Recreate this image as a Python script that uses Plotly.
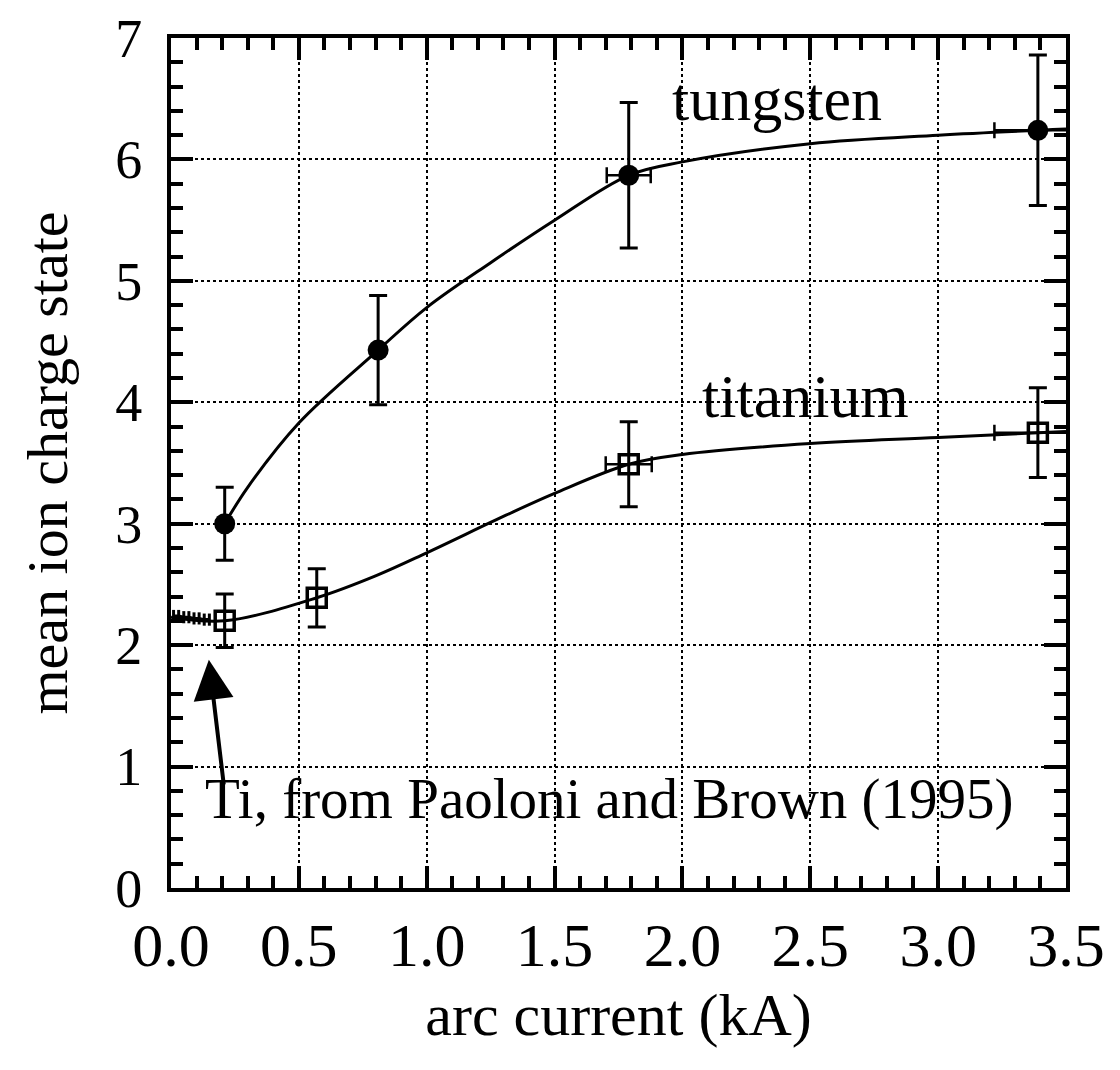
import plotly.graph_objects as go

# measured data
w_x = [0.21, 0.81, 1.79, 3.39]
w_y = [3.00, 4.43, 5.87, 6.24]
w_yerr = [0.30, 0.45, 0.60, 0.62]
w_xerr = [0.0, 0.0, 0.086, 0.17]

ti_x = [0.21, 0.57, 1.79, 3.39]
ti_y = [2.20, 2.39, 3.49, 3.75]
ti_yerr = [0.22, 0.24, 0.35, 0.37]
ti_xerr = [0.0, 0.0, 0.09, 0.17]

# Paoloni and Brown (1995) Ti data
pb_x = [0.01, 0.03, 0.05, 0.07, 0.09, 0.11, 0.13, 0.15]
pb_y = [2.24, 2.24, 2.23, 2.23, 2.22, 2.22, 2.21, 2.21]
pb_yerr = [0.05, 0.05, 0.05, 0.05, 0.05, 0.05, 0.05, 0.05]

# smooth fit curves
wfit_x = [0.21, 0.3, 0.5, 0.81, 1.0, 1.25, 1.5, 1.79, 2.0, 2.5, 3.0, 3.5]
wfit_y = [3.00, 3.30, 3.83, 4.43, 4.78, 5.15, 5.50, 5.87, 5.98, 6.13, 6.20, 6.25]
tfit_x = [0.0, 0.21, 0.57, 0.8, 1.0, 1.31, 1.5, 1.79, 2.0, 2.5, 3.0, 3.5]
tfit_y = [2.23, 2.20, 2.39, 2.57, 2.76, 3.07, 3.25, 3.49, 3.57, 3.66, 3.71, 3.76]

x_ticks = [0.0, 0.5, 1.0, 1.5, 2.0, 2.5, 3.0, 3.5]
x_ticklabels = ["0.0", "0.5", "1.0", "1.5", "2.0", "2.5", "3.0", "3.5"]
y_ticks = [0, 1, 2, 3, 4, 5, 6, 7]
y_ticklabels = ["0", "1", "2", "3", "4", "5", "6", "7"]

FONT = "Liberation Serif"

fig = go.Figure()

fig.add_trace(go.Scatter(x=wfit_x, y=wfit_y, mode="lines", line=dict(color="black", width=3, shape="spline", smoothing=1.0), showlegend=False, hoverinfo="skip"))
fig.add_trace(go.Scatter(x=tfit_x, y=tfit_y, mode="lines", line=dict(color="black", width=3, shape="spline", smoothing=1.0), showlegend=False, hoverinfo="skip"))

fig.add_trace(go.Scatter(
    x=pb_x, y=pb_y, mode="lines", line=dict(color="black", width=3),
    error_y=dict(type="data", array=pb_yerr, color="black", thickness=3, width=0),
    showlegend=False))

fig.add_trace(go.Scatter(
    x=w_x, y=w_y, mode="markers",
    marker=dict(symbol="circle", size=21, color="black"),
    error_y=dict(type="data", array=w_yerr, color="black", thickness=3, width=9),
    error_x=dict(type="data", array=w_xerr, color="black", thickness=2.5, width=8),
    showlegend=False))

fig.add_trace(go.Scatter(
    x=ti_x, y=ti_y, mode="markers",
    marker=dict(symbol="square-open", size=19, color="black", line=dict(width=3.5, color="black")),
    error_y=dict(type="data", array=ti_yerr, color="black", thickness=3, width=9),
    error_x=dict(type="data", array=ti_xerr, color="black", thickness=2.5, width=8),
    showlegend=False))

axis_common = dict(
    showline=True, linecolor="black", linewidth=4, mirror="allticks",
    ticks="inside", ticklen=22, tickwidth=3.5, tickcolor="black",
    showgrid=True, gridcolor="black", gridwidth=1.5, griddash="dot",
    zeroline=False, ticklabeloverflow="allow", automargin=False,
)

fig.update_xaxes(
    range=[0, 3.5], tickvals=x_ticks, ticktext=x_ticklabels,
    tickfont=dict(family=FONT, size=62, color="black"),
    minor=dict(dtick=0.1, tick0=0, ticks="inside", ticklen=12, tickwidth=3.5, tickcolor="black", showgrid=False),
    title=dict(text="arc current (kA)", font=dict(family=FONT, size=60, color="black"), standoff=16),
    ticklabelstandoff=0,
    **axis_common)
fig.update_yaxes(
    range=[-0.0005, 7.0005], tickvals=y_ticks, ticktext=y_ticklabels,
    tickfont=dict(family=FONT, size=54, color="black"),
    minor=dict(dtick=0.2, tick0=0, ticks="inside", ticklen=12, tickwidth=3.5, tickcolor="black", showgrid=False),
    title=dict(text="mean ion charge state", font=dict(family=FONT, size=58, color="black"), standoff=30),
    ticklabelstandoff=14,
    **axis_common)

fig.add_annotation(x=2.37, y=6.5, xref="x", yref="y", text="tungsten", showarrow=False,
                   font=dict(family=FONT, size=62, color="black"))
fig.add_annotation(x=2.48, y=4.05, xref="x", yref="y", text="titanium", showarrow=False,
                   font=dict(family=FONT, size=62, color="black"))
fig.add_annotation(x=1.715, y=0.73, xref="x", yref="y", text="Ti, from Paoloni and Brown (1995)", showarrow=False,
                   font=dict(family=FONT, size=57, color="black"))
fig.add_annotation(x=0.148, y=1.88, ax=0.207, ay=0.84, xref="x", yref="y", axref="x", ayref="y",
                   text="", showarrow=True, arrowhead=2, arrowsize=2.0, arrowwidth=4, arrowcolor="black")

fig.update_layout(
    width=1120, height=1070,
    margin=dict(l=163, r=62, t=30, b=190, autoexpand=False),
    plot_bgcolor="white", paper_bgcolor="white",
    font=dict(family=FONT, color="black"),
)

fig.write_html("out.html")
